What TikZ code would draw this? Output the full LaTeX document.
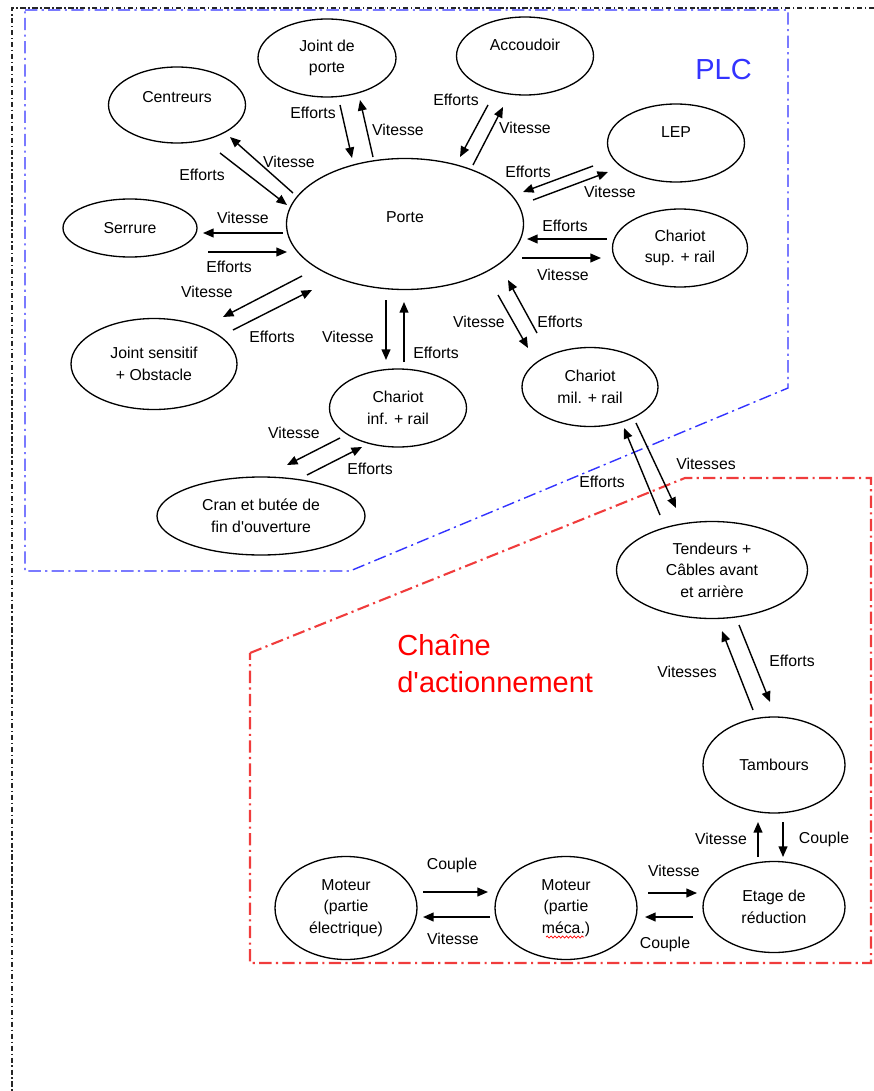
\documentclass[tikz,border=0pt]{standalone}
\usepackage{fontspec}
\setmainfont{Liberation Sans}
\usetikzlibrary{shapes.geometric,arrows.meta,decorations.pathmorphing}
\definecolor{plcblue}{HTML}{3333FF}
\definecolor{actred}{HTML}{F03C3C}
\newcommand{\lblfont}{\fontsize{9}{12.3}\selectfont}
\newcommand{\zonefont}{\fontsize{16.5}{21}\selectfont}

\begin{document}
\begin{tikzpicture}[x=0.02cm,y=-0.02cm,
  bloc/.style n args={2}{ellipse,draw,line width=0.75pt,minimum width=#1*0.02cm,minimum height=#2*0.02cm,inner sep=0pt,align=center,font=\lblfont},
  flow/.style={-{Triangle[length=6pt,width=5pt]},line width=0.8pt},
  lbl/.style={font=\lblfont,inner sep=0pt},
  zone/.style={dash pattern=on 7pt off 2.5pt on 1.2pt off 2.5pt}]
\useasboundingbox (0,0) rectangle (874,1091);

% cadres
\draw[black!85,line width=0.6pt,dash pattern=on 3pt off 1.5pt on 0.8pt off 1.5pt] (874,8) -- (12,8) -- (12,1091);
\draw[plcblue,zone,line width=0.8pt] (25,10) -- (788,10) -- (788,388) -- (350,571) -- (25,571) -- cycle;
\draw[actred,zone,line width=1.2pt] (250,653) -- (685,478) -- (871,478) -- (871,963) -- (250,963) -- cycle;
\node[plcblue,font=\zonefont,anchor=west,inner sep=0pt] (plc) at (695,70) {PLC};
\node[red,font=\zonefont,anchor=west,align=left,inner sep=0pt] (chaine) at (397,664) {Chaîne\\d\textquotesingle actionnement};

% blocs
\node[bloc={237}{131}] (porte) at (405,224) {Porte\\[-4.3pt]~};
\node[bloc={138}{78}] (jointporte) at (327,58) {Joint de\\porte};
\node[bloc={137}{76}] (centreurs) at (177,105) {Centreurs\\[-3.3pt]~};
\node[bloc={134}{58}] (serrure) at (130,228) {Serrure};
\node[bloc={166}{91}] (jointsens) at (154,364) {Joint sensitif\\+ Obstacle};
\node[bloc={137}{78}] (chinf) at (398,408) {Chariot\\inf. + rail};
\node[bloc={208}{78}] (cran) at (261,516) {Cran et butée de\\fin d\textquotesingle ouverture};
\node[bloc={137}{78}] (accoudoir) at (525,56) {Accoudoir\\~};
\node[bloc={137}{78}] (lep) at (676,143) {LEP\\~};
\node[bloc={135}{78}] (chsup) at (680,248) {Chariot\\sup. + rail};
\node[bloc={136}{79}] (chmil) at (590,387) {Chariot\\mil. + rail};
\node[bloc={191}{97}] (tendeurs) at (712,570) {Tendeurs +\\Câbles avant\\et arrière};
\node[bloc={142}{96}] (tambours) at (774,765) {Tambours};
\node[bloc={142}{91}] (etage) at (774,907) {Etage de\\réduction};
\node[bloc={142}{103}] (motelec) at (346,908) {Moteur\\(partie\\électrique)};
\node[bloc={142}{103}] (motmeca) at (566,908) {Moteur\\(partie\\méca.)};
\draw[red,line width=0.4pt,decorate,decoration={snake,amplitude=0.6pt,segment length=2.2pt}] (546,937) -- (584,937);

% flux autour de la porte
\coordinate (jp1) at (340,105); \coordinate (jp2) at (352,158); \coordinate (jp3) at (373,157); \coordinate (jp4) at (360,100);
\draw[flow] (jp1) -- (jp2); \draw[flow] (jp3) -- (jp4);
\node[lbl] (jpE) at (313,113) {Efforts}; \node[lbl] (jpV) at (398,130) {Vitesse};
\coordinate (ce1) at (293,193); \coordinate (ce2) at (230,137); \coordinate (ce3) at (220,153); \coordinate (ce4) at (287,205);
\draw[flow] (ce1) -- (ce2); \draw[flow] (ce3) -- (ce4);
\node[lbl] (ceV) at (289,162) {Vitesse}; \node[lbl] (ceE) at (202,175) {Efforts};
\coordinate (se1) at (283,233); \coordinate (se2) at (203,233); \coordinate (se3) at (208,252); \coordinate (se4) at (287,252);
\draw[flow] (se1) -- (se2); \draw[flow] (se3) -- (se4);
\node[lbl] (seV) at (243,218) {Vitesse}; \node[lbl] (seE) at (229,267) {Efforts};
\coordinate (js1) at (302,276); \coordinate (js2) at (223,317); \coordinate (js3) at (233,330); \coordinate (js4) at (312,290);
\draw[flow] (js1) -- (js2); \draw[flow] (js3) -- (js4);
\node[lbl] (jsV) at (207,292) {Vitesse}; \node[lbl] (jsE) at (272,337) {Efforts};
\coordinate (ci1) at (386,300); \coordinate (ci2) at (386,360); \coordinate (ci3) at (404,362); \coordinate (ci4) at (404,302);
\draw[flow] (ci1) -- (ci2); \draw[flow] (ci3) -- (ci4);
\node[lbl] (ciV) at (348,337) {Vitesse}; \node[lbl] (ciE) at (436,353) {Efforts};
\coordinate (cr1) at (340,438); \coordinate (cr2) at (287,465); \coordinate (cr3) at (307,475); \coordinate (cr4) at (362,447);
\draw[flow] (cr1) -- (cr2); \draw[flow] (cr3) -- (cr4);
\node[lbl] (crV) at (294,433) {Vitesse}; \node[lbl] (crE) at (370,469) {Efforts};
\coordinate (ac1) at (488,105); \coordinate (ac2) at (460,157); \coordinate (ac3) at (473,165); \coordinate (ac4) at (503,107);
\draw[flow] (ac1) -- (ac2); \draw[flow] (ac3) -- (ac4);
\node[lbl] (acE) at (456,100) {Efforts}; \node[lbl] (acV) at (525,128) {Vitesse};
\coordinate (le1) at (593,166); \coordinate (le2) at (523,192); \coordinate (le3) at (533,200); \coordinate (le4) at (608,172);
\draw[flow] (le1) -- (le2); \draw[flow] (le3) -- (le4);
\node[lbl] (leE) at (528,172) {Efforts}; \node[lbl] (leV) at (610,192) {Vitesse};
\coordinate (cs1) at (607,239); \coordinate (cs2) at (527,239); \coordinate (cs3) at (522,258); \coordinate (cs4) at (601,258);
\draw[flow] (cs1) -- (cs2); \draw[flow] (cs3) -- (cs4);
\node[lbl] (csE) at (565,226) {Efforts}; \node[lbl] (csV) at (563,275) {Vitesse};
\coordinate (cm1) at (498,295); \coordinate (cm2) at (528,348); \coordinate (cm3) at (537,333); \coordinate (cm4) at (508,280);
\draw[flow] (cm1) -- (cm2); \draw[flow] (cm3) -- (cm4);
\node[lbl] (cmV) at (479,322) {Vitesse}; \node[lbl] (cmE) at (560,322) {Efforts};

% chaine d'actionnement
\coordinate (te1) at (660,515); \coordinate (te2) at (624,428); \coordinate (te3) at (636,423); \coordinate (te4) at (676,508);
\draw[flow] (te1) -- (te2); \draw[flow] (te3) -- (te4);
\node[lbl] (teV) at (706,464) {Vitesses}; \node[lbl] (teE) at (602,482) {Efforts};
\coordinate (ta1) at (753,710); \coordinate (ta2) at (722,631); \coordinate (ta3) at (739,625); \coordinate (ta4) at (770,702);
\draw[flow] (ta1) -- (ta2); \draw[flow] (ta3) -- (ta4);
\node[lbl] (taV) at (687,672) {Vitesses}; \node[lbl] (taE) at (792,661) {Efforts};
\coordinate (et1) at (758,857); \coordinate (et2) at (758,822); \coordinate (et3) at (783,822); \coordinate (et4) at (783,857);
\draw[flow] (et1) -- (et2); \draw[flow] (et3) -- (et4);
\node[lbl] (etV) at (721,839) {Vitesse}; \node[lbl] (etC) at (824,839) {Couple};
\coordinate (mr1) at (648,893); \coordinate (mr2) at (697,893); \coordinate (mr3) at (693,917); \coordinate (mr4) at (645,917);
\draw[flow] (mr1) -- (mr2); \draw[flow] (mr3) -- (mr4);
\node[lbl] (mrV) at (674,871) {Vitesse}; \node[lbl] (mrC) at (665,944) {Couple};
\coordinate (mo1) at (423,892); \coordinate (mo2) at (488,892); \coordinate (mo3) at (490,917); \coordinate (mo4) at (423,917);
\draw[flow] (mo1) -- (mo2); \draw[flow] (mo3) -- (mo4);
\node[lbl] (moC) at (452,865) {Couple}; \node[lbl] (moV) at (453,939) {Vitesse};
\end{tikzpicture}
\end{document}
